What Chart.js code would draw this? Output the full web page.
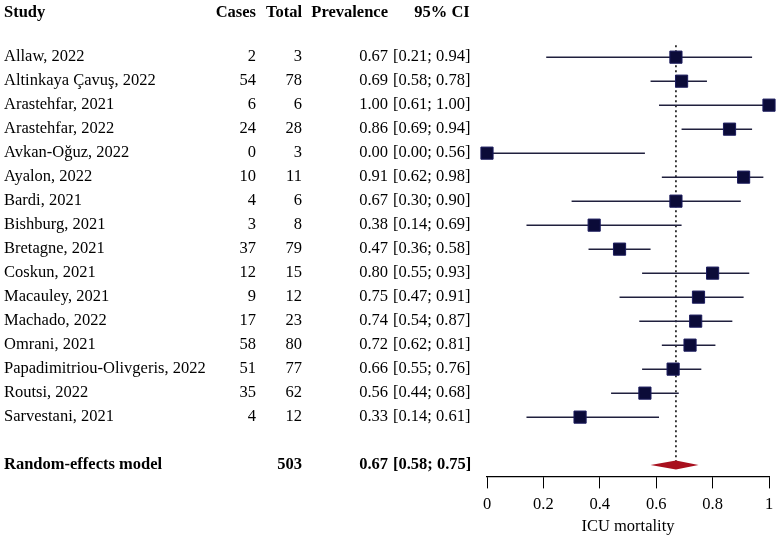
<!DOCTYPE html>
<html>
<head>
<meta charset="utf-8">
<script src="https://cdn.jsdelivr.net/npm/chart.js@4.4.1/dist/chart.umd.min.js"></script>
<style>
  body { margin: 0; background: #fff; }
  #wrap { width: 777px; height: 540px; }
</style>
</head>
<body>
<div id="wrap"><canvas id="forest" width="777" height="540"></canvas></div>
<script>
// study rows, top to bottom
const studies = ['Allaw, 2022', 'Altinkaya Çavuş, 2022', 'Arastehfar, 2021', 'Arastehfar, 2022',
    'Avkan-Oğuz, 2022', 'Ayalon, 2022', 'Bardi, 2021', 'Bishburg, 2021', 'Bretagne, 2021',
    'Coskun, 2021', 'Macauley, 2021', 'Machado, 2022', 'Omrani, 2021',
    'Papadimitriou-Olivgeris, 2022', 'Routsi, 2022', 'Sarvestani, 2021'];
const cases = [2, 54, 6, 24, 0, 10, 4, 3, 37, 12, 9, 17, 58, 51, 35, 4];
const totals = [3, 78, 6, 28, 3, 11, 6, 8, 79, 15, 12, 23, 80, 77, 62, 12];
const prevalence = [0.67, 0.69, 1.00, 0.86, 0.00, 0.91, 0.67, 0.38, 0.47, 0.80, 0.75, 0.74, 0.72, 0.66, 0.56, 0.33];
const ciLow = [0.21, 0.58, 0.61, 0.69, 0.00, 0.62, 0.30, 0.14, 0.36, 0.55, 0.47, 0.54, 0.62, 0.55, 0.44, 0.14];
const ciHigh = [0.94, 0.78, 1.00, 0.94, 0.56, 0.98, 0.90, 0.69, 0.58, 0.93, 0.91, 0.87, 0.81, 0.76, 0.68, 0.61];

// pooled estimate
const pooledLabel = 'Random-effects model';
const pooledTotal = 503;
const pooledEst = 0.67;
const pooledLow = 0.58;
const pooledHigh = 0.75;

const headers = ['Study', 'Cases', 'Total', 'Prevalence', '95% CI'];
const xTicks = [0, 0.2, 0.4, 0.6, 0.8, 1];
const xTitle = 'ICU mortality';

const rowOf = i => i + 1;      // study i sits on row i+1
const pooledRow = studies.length + 2;
const headerRow = -0.85;

const serif = '"Liberation Serif", "Times New Roman", serif';
const fmt = v => v.toFixed(2);

const forestPlugin = {
    id: 'forest',
    beforeDatasetsDraw(chart) {
        const { ctx, scales: { x, y } } = chart;
        ctx.save();
        // reference line at the pooled estimate
        ctx.strokeStyle = '#000';
        ctx.lineWidth = 1.5;
        ctx.setLineDash([2, 3]);
        ctx.beginPath();
        ctx.moveTo(x.getPixelForValue(pooledEst), y.getPixelForValue(0.5));
        ctx.lineTo(x.getPixelForValue(pooledEst), y.getPixelForValue(pooledRow));
        ctx.stroke();
        ctx.setLineDash([]);

        // confidence intervals
        ctx.strokeStyle = '#20203e';
        ctx.lineWidth = 1.5;
        studies.forEach((s, i) => {
            const py = y.getPixelForValue(rowOf(i));
            ctx.beginPath();
            ctx.moveTo(x.getPixelForValue(ciLow[i]), py);
            ctx.lineTo(x.getPixelForValue(ciHigh[i]), py);
            ctx.stroke();
        });

        // pooled diamond
        const dy = y.getPixelForValue(pooledRow);
        ctx.fillStyle = '#a8101e';
        ctx.beginPath();
        ctx.moveTo(x.getPixelForValue(pooledLow), dy);
        ctx.lineTo(x.getPixelForValue(pooledEst), dy - 4.5);
        ctx.lineTo(x.getPixelForValue(pooledHigh), dy);
        ctx.lineTo(x.getPixelForValue(pooledEst), dy + 4.5);
        ctx.closePath();
        ctx.fill();
        ctx.restore();
    },
    afterDraw(chart) {
        const { ctx, scales: { y } } = chart;
        ctx.save();
        ctx.fillStyle = '#000';
        ctx.textBaseline = 'middle';
        const put = (txt, px, py, align, bold) => {
            ctx.font = (bold ? 'bold ' : '') + '16.5px ' + serif;
            ctx.textAlign = align;
            ctx.fillText(txt, px, py);
        };
        const hy = y.getPixelForValue(headerRow);
        put(headers[0], 4, hy, 'left', true);
        put(headers[1], 256, hy, 'right', true);
        put(headers[2], 302, hy, 'right', true);
        put(headers[3], 388, hy, 'right', true);
        put(headers[4], 442, hy, 'center', true);

        studies.forEach((s, i) => {
            const py = y.getPixelForValue(rowOf(i));
            put(s, 4, py, 'left', false);
            put(String(cases[i]), 256, py, 'right', false);
            put(String(totals[i]), 302, py, 'right', false);
            put(fmt(prevalence[i]), 388, py, 'right', false);
            put('[' + fmt(ciLow[i]) + '; ' + fmt(ciHigh[i]) + ']', 393, py, 'left', false);
        });

        const py = y.getPixelForValue(pooledRow);
        put(pooledLabel, 4, py, 'left', true);
        put(String(pooledTotal), 302, py, 'right', true);
        put(fmt(pooledEst), 388, py, 'right', true);
        put('[' + fmt(pooledLow) + '; ' + fmt(pooledHigh) + ']', 393, py, 'left', true);
        ctx.restore();
    }
};

new Chart(document.getElementById('forest'), {
    type: 'scatter',
    data: {
        datasets: [{
            data: prevalence.map((p, i) => ({ x: p, y: rowOf(i) })),
            pointStyle: 'rect',
            radius: 8.6,
            hoverRadius: 8.6,
            backgroundColor: '#0b0b38',
            borderColor: '#1c1c5e',
            borderWidth: 1,
            clip: false
        }]
    },
    options: {
        responsive: false,
        animation: false,
        events: [],
        layout: { autoPadding: false, padding: { left: 487, right: 8, top: 0, bottom: 3 } },
        plugins: { legend: { display: false }, tooltip: { enabled: false } },
        scales: {
            y: {
                type: 'linear',
                reverse: true,
                min: -1.382,
                max: 18.47,
                display: false
            },
            x: {
                type: 'linear',
                min: 0,
                max: 1,
                afterBuildTicks: axis => { axis.ticks = xTicks.map(v => ({ value: v })); },
                afterFit: axis => { axis.paddingLeft = 0; axis.paddingRight = 0; },
                ticks: {
                    color: '#000',
                    padding: 6,
                    maxRotation: 0,
                    font: { family: serif, size: 16.5 },
                    callback: v => String(+v.toFixed(1))
                },
                grid: {
                    drawOnChartArea: false,
                    drawTicks: true,
                    tickLength: 12,
                    color: '#000',
                    lineWidth: 1
                },
                border: { display: true, color: '#000', width: 1.2 },
                title: {
                    display: true,
                    text: xTitle,
                    color: '#000',
                    font: { family: serif, size: 16.5 },
                    padding: { top: -3, bottom: 0 }
                }
            }
        }
    },
    plugins: [forestPlugin]
});
</script>
</body>
</html>
